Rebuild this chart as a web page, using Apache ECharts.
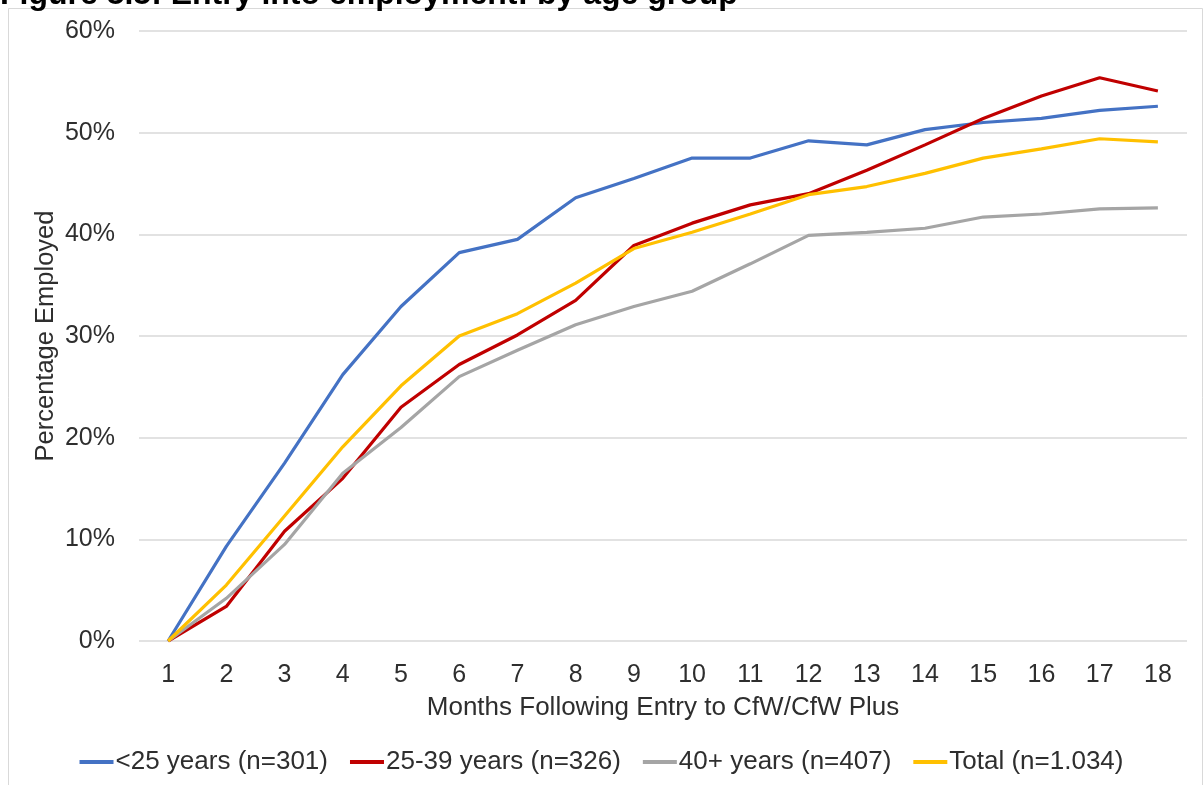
<!DOCTYPE html>
<html>
<head>
<meta charset="utf-8">
<script src="https://cdn.jsdelivr.net/npm/echarts@6/dist/echarts.min.js"></script>
<style>
html,body{margin:0;padding:0;background:#fff;}
#chart{width:1203px;height:785px;}
</style>
</head>
<body>
<div id="chart"></div>
<script>
const titleText = 'Figure 5.5: Entry into employment: by age group';
const months = ['1','2','3','4','5','6','7','8','9','10','11','12','13','14','15','16','17','18'];
const seriesNames = ['<25 years (n=301)', '25-39 years (n=326)', '40+ years (n=407)', 'Total (n=1.034)'];
const under25 = [0, 9.3, 17.5, 26.2, 32.9, 38.2, 39.5, 43.6, 45.5, 47.5, 47.5, 49.2, 48.8, 50.3, 51.0, 51.4, 52.2, 52.6];
const age25to39 = [0, 3.4, 10.8, 16.0, 23.0, 27.2, 30.1, 33.5, 38.9, 41.1, 42.9, 44.0, 46.3, 48.8, 51.4, 53.6, 55.4, 54.1];
const age40plus = [0, 4.2, 9.5, 16.5, 21.0, 26.0, 28.6, 31.1, 32.9, 34.4, 37.1, 39.9, 40.2, 40.6, 41.7, 42.0, 42.5, 42.6];
const total = [0, 5.5, 12.3, 19.1, 25.1, 30.0, 32.2, 35.2, 38.6, 40.2, 42.0, 43.9, 44.7, 46.0, 47.5, 48.4, 49.4, 49.1];
const yTicks = [0, 10, 20, 30, 40, 50, 60];

const colors = ['#4472C4', '#C00000', '#A5A5A5', '#FFC000'];
const dataSets = [under25, age25to39, age40plus, total];
const FONT = '"Liberation Sans", Arial, sans-serif';
const txt = '#2e2e2e';

const chart = echarts.init(document.getElementById('chart'), null, {renderer: 'canvas'});
chart.setOption({
  animation: false,
  backgroundColor: '#ffffff',
  title: {
    text: titleText,
    left: 0,
    top: -21,
    padding: 0,
    textStyle: {fontFamily: FONT, fontSize: 32, fontWeight: 'bold', color: '#000000'}
  },
  graphic: [{
    type: 'rect',
    shape: {x: 8.5, y: 8.5, width: 1194, height: 800},
    style: {fill: 'none', stroke: '#d9d9d9', lineWidth: 1},
    silent: true,
    z: -1
  }],
  grid: {left: 139, right: 16, top: 31, bottom: 144, containLabel: false},
  legend: {
    data: seriesNames,
    bottom: 5,
    left: 'center',
    icon: 'rect',
    itemWidth: 34,
    itemHeight: 4,
    itemGap: 22,
    textStyle: {fontFamily: FONT, fontSize: 26, color: txt, padding: [0, 0, 0, -3]}
  },
  xAxis: {
    type: 'category',
    data: months,
    boundaryGap: true,
    name: 'Months Following Entry to CfW/CfW Plus',
    nameLocation: 'middle',
    nameGap: 54,
    nameMoveOverlap: false,
    nameTextStyle: {fontFamily: FONT, fontSize: 26, color: txt},
    axisLine: {show: false},
    axisTick: {show: false},
    axisLabel: {fontFamily: FONT, fontSize: 25, color: txt, margin: 22, interval: 0}
  },
  yAxis: {
    type: 'value',
    min: yTicks[0],
    max: yTicks[yTicks.length - 1],
    interval: 10,
    name: 'Percentage Employed',
    nameLocation: 'middle',
    nameGap: 80,
    nameMoveOverlap: false,
    nameTextStyle: {fontFamily: FONT, fontSize: 25.5, color: txt},
    axisLine: {show: false},
    axisTick: {show: false},
    axisLabel: {fontFamily: FONT, fontSize: 25, color: txt, margin: 24, formatter: v => v + '%'},
    splitLine: {lineStyle: {color: '#d9d9d9', width: 1.5}}
  },
  series: seriesNames.map((n, i) => ({
    name: n,
    type: 'line',
    data: dataSets[i],
    symbol: 'none',
    color: colors[i],
    lineStyle: {width: 3.2, color: colors[i]}
  }))
});
</script>
</body>
</html>
